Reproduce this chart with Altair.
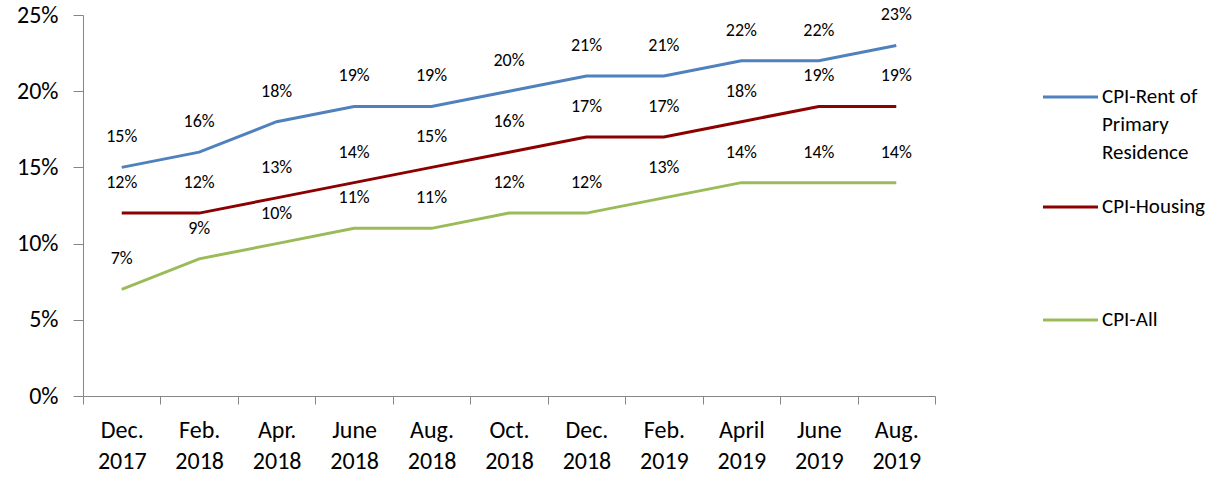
import altair as alt
import pandas as pd

periods = ["Dec. 2017", "Feb. 2018", "Apr. 2018", "June 2018", "Aug. 2018",
           "Oct. 2018", "Dec. 2018", "Feb. 2019", "April 2019", "June 2019", "Aug. 2019"]
series_names = ["CPI-Rent of Primary Residence", "CPI-Housing", "CPI-All"]
legend_lines = [["CPI-Rent of", "Primary", "Residence"], ["CPI-Housing"], ["CPI-All"]]
rent = [15, 16, 18, 19, 19, 20, 21, 21, 22, 22, 23]
housing = [12, 12, 13, 14, 15, 16, 17, 17, 18, 19, 19]
cpi_all = [7, 9, 10, 11, 11, 12, 12, 13, 14, 14, 14]
colors = ["#4F81BD", "#8B0000", "#9BBB59"]

FONT = "Carlito, Lato"

rows = []
for name, vals in zip(series_names, [rent, housing, cpi_all]):
    for p, v in zip(periods, vals):
        rows.append({"period": p, "series": name, "value": v / 100})
df = pd.DataFrame(rows)

x = alt.X("period:N", sort=periods,
          scale=alt.Scale(type="band", paddingInner=0, paddingOuter=0),
          axis=alt.Axis(title=None, labelAngle=0, tickBand="extent",
                        labelExpr="split(datum.label, ' ')",
                        labelFontSize=24, labelFont=FONT, labelColor="#000",
                        labelLineHeight=31, labelPadding=14, labelBaseline="top",
                        tickSize=8, tickColor="#868686", domainColor="#868686",
                        labelFlush=False))
y = alt.Y("value:Q",
          scale=alt.Scale(domain=[0, 0.25], nice=False),
          axis=alt.Axis(title=None, format=".0%", values=[0, 0.05, 0.10, 0.15, 0.20, 0.25],
                        grid=False, labelFontSize=24, labelFont=FONT, labelColor="#000",
                        labelPadding=15, tickSize=10, tickColor="#868686",
                        domainColor="#868686"))
color = alt.Color("series:N", scale=alt.Scale(domain=series_names, range=colors), legend=None)

base = alt.Chart(df)
lines = base.mark_line(strokeWidth=3).encode(x=x, y=y, color=color, detail="series:N")
labels = base.mark_text(dy=-30, baseline="middle", fontSize=18, font=FONT, color="#000").encode(
    x=x, y=y, text=alt.Text("value:Q", format=".0%"))

legend_y = [82, 192, 305]
layers = [lines, labels]
for i, name in enumerate(series_names):
    ldf = pd.DataFrame({"series": [name]})
    layers.append(alt.Chart(ldf).mark_rule(strokeWidth=3, color=colors[i]).encode(
        x=alt.value(960), x2=alt.value(1015), y=alt.value(legend_y[i])))
    layers.append(alt.Chart(ldf).mark_text(align="left", baseline="middle", fontSize=21,
                                           font=FONT, color="#000", lineHeight=28).encode(
        x=alt.value(1019), y=alt.value(legend_y[i]), text=alt.value(legend_lines[i])))

chart = alt.layer(*layers).properties(
    width=852, height=381,
    autosize=alt.AutoSizeParams(type="none"),
    padding={"left": 83, "top": 15, "right": 293, "bottom": 84},
).configure_view(stroke=None)

chart.save("out.html", embed_options={"renderer": "svg", "actions": False})
